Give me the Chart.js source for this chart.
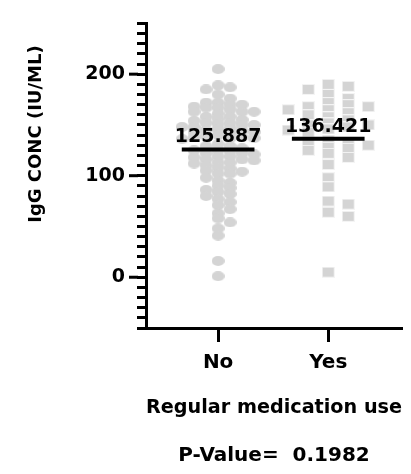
<!DOCTYPE html>
<html>
<head>
<meta charset="utf-8">
<script src="https://cdn.jsdelivr.net/npm/chart.js@4.4.1/dist/chart.umd.min.js"></script>
<style>
  html, body { margin: 0; padding: 0; background: #fff; }
</style>
</head>
<body>
<canvas id="chart" width="411" height="474"></canvas>
<script>
const categories = ["No", "Yes"];
const noValues = [
  205, 187, 189, 185, 180, 176, 172, 170, 167, 165, 163, 161,
  172, 170, 168, 163, 167, 163, 158, 158, 156, 155, 154, 152, 152, 151, 150,
  148, 148, 147, 146, 144, 143, 143, 142, 140, 139, 138, 137, 137, 136, 138,
  150, 145,
  131, 129, 129, 127, 125, 125, 124, 122, 122, 121, 119, 119, 118, 116, 116,
  115, 113, 113, 112, 110, 108, 107, 105, 104, 102, 102,
  98, 95, 93, 90, 88, 86, 84, 82, 80, 77, 74, 71,
  67, 63, 58, 54, 48, 41, 16, 1
];
const yesValues = [
  190, 188, 185, 180, 176, 172, 170, 168, 168, 165, 165, 162, 160, 158, 155,
  152, 150, 150, 148, 146, 145, 143, 135, 133, 132, 130, 128, 127, 125, 122,
  118, 111, 98, 89, 75, 72, 64, 60, 5
];
const meanValues = [125.887, 136.421];
const meanLabels = ["125.887", "136.421"];
const yMajorTicks = [0, 100, 200];
const yTitle = "IgG CONC (IU/ML)";
const xTitle = "Regular medication use";
const pValueText = "P-Value=  0.1982";

const FONT = "'DejaVu Sans', sans-serif";
const GREY = "#d4d4d4";

// point marks (the picture is a bit stretched sideways)
function markImage(w, h, shape) {
  const c = document.createElement("canvas");
  c.width = w;
  c.height = h;
  const g = c.getContext("2d");
  if (shape === "ellipse") {
    g.fillStyle = GREY;
    g.beginPath();
    g.ellipse(w / 2, h / 2, w / 2, h / 2, 0, 0, Math.PI * 2);
    g.fill();
  } else {
    g.fillStyle = "#f4f4f4";
    g.fillRect(0, 0, w, h);
    g.fillStyle = GREY;
    g.fillRect(1, 1, w - 2, h - 2);
  }
  return c;
}
const circleMark = markImage(13, 10, "ellipse");
const squareMark = markImage(13, 11, "rect");

// simple beeswarm, done in pixels through the chart scales
function swarm(chart, values, center, step, dx, dy) {
  const xs = chart.scales.x, ys = chart.scales.y;
  const c = xs.getPixelForValue(center);
  const placed = [];
  const out = new Array(values.length);
  const order = values.map((v, i) => i).sort((a, b) => values[b] - values[a]);
  order.forEach(i => {
    const py = ys.getPixelForValue(values[i]);
    for (let k = 0; k < 60; k++) {
      const px = c + (k % 2 ? 1 : -1) * Math.ceil(k / 2) * step;
      if (!placed.some(p => Math.abs(p.x - px) < dx && Math.abs(p.y - py) < dy)) {
        placed.push({ x: px, y: py });
        out[i] = { x: xs.getValueForPixel(px), y: values[i] };
        break;
      }
    }
  });
  return out;
}

const meanLabelPlugin = {
  id: "meanLabels",
  afterDatasetsDraw(chart) {
    const { ctx, scales: { x, y } } = chart;
    ctx.save();
    ctx.font = "bold 19px " + FONT;
    ctx.fillStyle = "#000";
    ctx.textAlign = "center";
    ctx.textBaseline = "alphabetic";
    meanValues.forEach((m, i) => {
      ctx.fillText(meanLabels[i], x.getPixelForValue(i + 1), y.getPixelForValue(m) - 7);
    });
    ctx.restore();
  }
};

// longer marks at the labelled ticks + y title (sits above centre in the original)
const axisExtrasPlugin = {
  id: "axisExtras",
  afterDraw(chart) {
    const { ctx, scales: { y } } = chart;
    ctx.save();
    ctx.strokeStyle = "#000";
    ctx.lineWidth = 3;
    yMajorTicks.forEach(v => {
      const py = y.getPixelForValue(v);
      ctx.beginPath();
      ctx.moveTo(y.right - 17, py);
      ctx.lineTo(y.right - 8, py);
      ctx.stroke();
    });
    ctx.translate(36, y.getPixelForValue(141));
    ctx.rotate(-Math.PI / 2);
    ctx.font = "bold 18px " + FONT;
    ctx.fillStyle = "#000";
    ctx.textAlign = "center";
    ctx.textBaseline = "middle";
    ctx.fillText(yTitle, 0, 0);
    ctx.restore();
  }
};

const meanLine = (m, i) => ({
  data: [{ x: i + 1 - 0.33, y: m }, { x: i + 1 + 0.33, y: m }],
  showLine: true,
  borderColor: "#000",
  borderWidth: 4,
  pointRadius: 0
});

const chart = new Chart(document.getElementById("chart"), {
  type: "scatter",
  data: {
    datasets: [
      meanLine(meanValues[0], 0),
      meanLine(meanValues[1], 1),
      { data: noValues.map(v => ({ x: 1, y: v })), pointStyle: circleMark, pointRadius: 6 },
      { data: yesValues.map(v => ({ x: 2, y: v })), pointStyle: squareMark, pointRadius: 6 }
    ]
  },
  options: {
    responsive: false,
    animation: false,
    layout: { padding: { top: 15, right: 9, left: 0, bottom: -6 } },
    plugins: {
      legend: { display: false },
      tooltip: { enabled: false }
    },
    scales: {
      x: {
        type: "linear",
        min: 0.345,
        max: 2.67,
        afterBuildTicks(s) { s.ticks = categories.map((c, i) => ({ value: i + 1 })); },
        afterFit(s) { s.height = 152; },
        border: { color: "#000", width: 3 },
        grid: { drawOnChartArea: false, tickLength: 14, tickWidth: 3, tickColor: "#000" },
        ticks: {
          autoSkip: false,
          maxRotation: 0,
          padding: 9,
          color: "#000",
          font: { family: FONT, size: 20, weight: "bold" },
          callback: v => categories[Math.round(v) - 1] ?? ""
        },
        title: {
          display: true,
          text: [xTitle, pValueText],
          color: "#000",
          font: { family: FONT, size: 20, weight: "bold", lineHeight: "48px" },
          padding: { top: 0, bottom: 0 }
        }
      },
      y: {
        type: "linear",
        min: -50,
        max: 250,
        afterFit(s) { s.width = 146; },
        border: { color: "#000", width: 3 },
        grid: { drawOnChartArea: false, tickLength: 9, tickWidth: 3, tickColor: "#000" },
        ticks: {
          stepSize: 10,
          autoSkip: false,
          padding: 12,
          color: "#000",
          font: { family: FONT, size: 19, weight: "bold" },
          callback: v => yMajorTicks.includes(v) ? String(v) : ""
        }
      }
    }
  },
  plugins: [meanLabelPlugin, axisExtrasPlugin]
});

chart.data.datasets[2].data = swarm(chart, noValues, 1, 6, 9, 5);
chart.data.datasets[3].data = swarm(chart, yesValues, 2, 10, 11, 6);
chart.update();
</script>
</body>
</html>
